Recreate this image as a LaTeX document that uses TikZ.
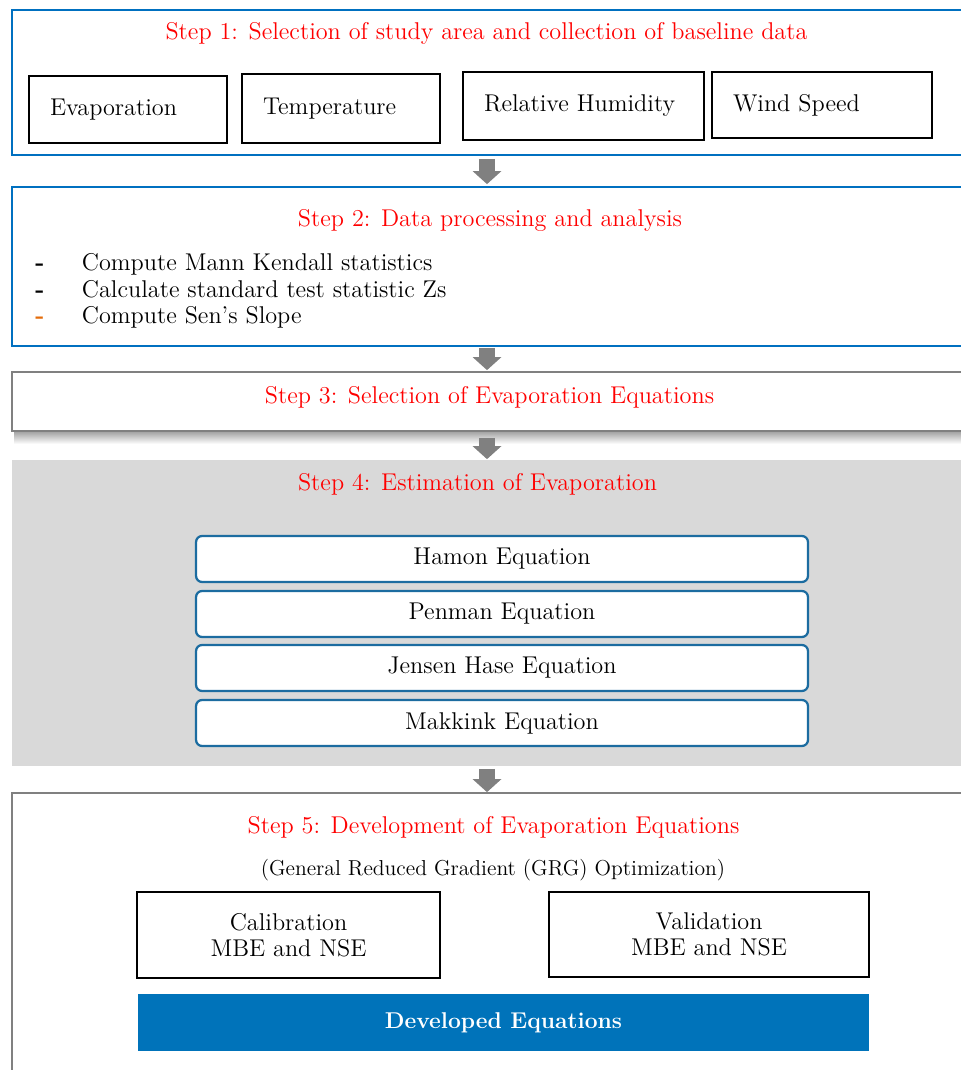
\documentclass[tikz,border=0pt]{standalone}
\usepackage{xcolor}
\usepackage{tikz}
\usetikzlibrary{arrows.meta,positioning,calc}
\definecolor{stepblue}{RGB}{0,112,192}
\definecolor{eqblue}{RGB}{28,108,160}
\definecolor{devblue}{RGB}{0,115,186}
\definecolor{stepgray}{RGB}{128,128,128}
\definecolor{panelgray}{RGB}{217,217,217}
\definecolor{dashorange}{RGB}{228,108,10}

\begin{document}
\begin{tikzpicture}[x=0.02cm,y=-0.02cm,
  every node/.style={font=\fontsize{13.8}{15}\selectfont},
  stepframe/.style={rectangle,minimum width=19cm,line width=0.035cm},
  steptitle/.style={text=red},
  databox/.style={rectangle,draw,line width=0.045cm,inner xsep=0.42cm,align=left},
  eqbox/.style={rectangle,draw=eqblue,fill=white,line width=0.045cm,rounded corners=0.12cm,
    minimum width=12.24cm,minimum height=0.92cm},
  resultbox/.style={rectangle,draw,line width=0.045cm,align=center},
  bigarrow/.style={color=stepgray,line width=0.32cm,-{Triangle[width=0.56cm,length=0.26cm]}}]
  \useasboundingbox (0,0) rectangle (960,1070);

  \node[stepframe,draw=stepblue,minimum height=2.9cm] (s1) at (487,82.5) {};
  \node[steptitle] (t1) at (486.5,33) {Step 1: Selection of study area and collection of baseline data};
  \node[databox,text width=3.12cm,minimum height=1.34cm] (evap) at (128,109.5) {Evaporation};
  \node[databox,text width=3.12cm,minimum height=1.38cm] (temp) at (341,108.5) {Temperature};
  \node[databox,text width=3.98cm,minimum height=1.36cm] (hum) at (583.5,106) {Relative Humidity};
  \node[databox,text width=3.56cm,minimum height=1.32cm] (wind) at (822,105) {Wind Speed};

  \node[stepframe,draw=stepblue,minimum height=3.18cm] (s2) at (487,266.5) {};
  \node[steptitle] (t2) at (490,220) {Step 2: Data processing and analysis};
  \node[anchor=west,inner sep=0pt] (tasks) at (35,292) {\begin{tabular}{@{}l@{\hspace{0.75cm}}l@{}}
    \textbf{-} & Compute Mann Kendall statistics\\
    \textbf{-} & Calculate standard test statistic Zs\\
    \textcolor{dashorange}{\textbf{-}} & Compute Sen's Slope
  \end{tabular}};

  \shade[top color=black!38,bottom color=white] (14,431) rectangle (962,444);
  \node[stepframe,draw=stepgray,fill=white,minimum height=1.18cm] (s3) at (487,401.5) {};
  \node[steptitle] (t3) at (489.5,397) {Step 3: Selection of Evaporation Equations};

  \node[stepframe,fill=panelgray,minimum height=6.12cm] (s4) at (487,613) {};
  \node[steptitle] (t4) at (477.5,484) {Step 4: Estimation of Evaporation};
  \node[eqbox] (hamon) at (502,559) {Hamon Equation};
  \node[eqbox] (penman) at (502,614) {Penman Equation};
  \node[eqbox] (jensen) at (502,668) {Jensen Hase Equation};
  \node[eqbox] (makkink) at (502,723) {Makkink Equation};

  \node[stepframe,draw=stepgray,minimum height=5.84cm] (s5) at (487,939) {};
  \node[steptitle] (t5) at (493.5,827) {Step 5: Development of Evaporation Equations};
  \node[font=\fontsize{12.3}{14}\selectfont] (grg) at (493,870) {(General Reduced Gradient (GRG) Optimization)};
  \node[resultbox,minimum width=6.06cm,minimum height=1.72cm] (cal) at (288.5,935) {Calibration\\MBE and NSE};
  \node[resultbox,minimum width=6.4cm,minimum height=1.7cm] (val) at (709,934.5) {Validation\\MBE and NSE};
  \node[fill=devblue,text=white,font=\fontsize{13}{15}\selectfont\bfseries,
    minimum width=14.62cm,minimum height=1.14cm] (dev) at (503.5,1022.5) {Developed Equations};

  \draw[bigarrow,shorten <=0.06cm,shorten >=0.04cm] (s1.south) -- (s2.north);
  \draw[bigarrow,shorten <=0.02cm,shorten >=0.02cm] (s2.south) -- (s3.north);
  \draw[bigarrow,shorten <=0.12cm] (s3.south) -- (s4.north);
  \draw[bigarrow,shorten <=0.04cm] (s4.south) -- (s5.north);
\end{tikzpicture}
\end{document}
